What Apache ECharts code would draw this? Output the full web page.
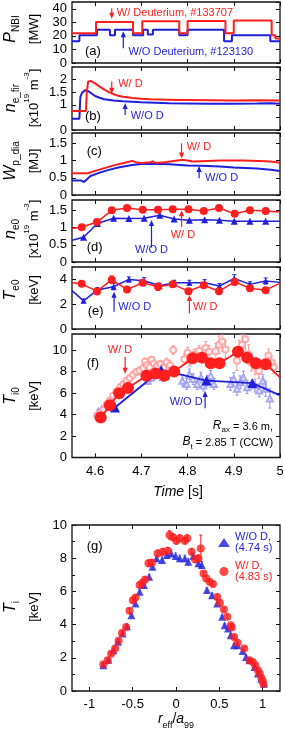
<!DOCTYPE html>
<html><head><meta charset="utf-8">
<script src="https://cdn.jsdelivr.net/npm/echarts@6/dist/echarts.min.js"></script>
<style>html,body{margin:0;padding:0;background:#fff;}#c{width:285px;height:733px;}</style>
</head><body><div id="c"></div>
<script>
// ---------- DATA ----------
const TIME_TICKS = [4.6, 4.7, 4.8, 4.9, 5.0];
const R_TICKS = [-1, -0.5, 0, 0.5, 1];

// (a) P_NBI [MW] (step change points)
const pnbiRedT = [4.55, 4.602, 4.682, 4.702, 4.782, 4.800, 4.882, 4.900, 4.982, 4.990, 5.0];
const pnbiRedV = [22, 30.2, 22, 30.8, 22, 31, 22, 31.3, 20.5, 18, 18];
const pnbiBlueT = [4.55, 4.566, 4.604, 4.632, 4.643, 4.682, 4.704, 4.714, 4.725, 4.782, 4.800, 4.879, 4.896, 4.979, 5.0];
const pnbiBlueV = [16, 20.5, 24.5, 20.5, 24.5, 20.5, 24.5, 21, 24.5, 20.5, 24.5, 16, 20.5, 16, 16];

// (b) n_e_fir [1e19 m^-3]
const nefRedT = [4.55, 4.58, 4.582, 4.585, 4.59, 4.6, 4.61, 4.62, 4.63, 4.64, 4.65, 4.66, 4.67, 4.68, 4.7, 4.72, 4.74, 4.76, 4.78, 4.8, 4.85, 4.9, 4.95, 5.0];
const nefRedV = [0.75, 0.75, 1.5, 1.93, 1.95, 1.85, 1.72, 1.6, 1.5, 1.42, 1.36, 1.32, 1.3, 1.27, 1.24, 1.22, 1.21, 1.2, 1.19, 1.19, 1.18, 1.17, 1.18, 1.17];
const nefBlueT = [4.55, 4.566, 4.568, 4.572, 4.578, 4.584, 4.59, 4.6, 4.61, 4.62, 4.64, 4.66, 4.68, 4.7, 4.73, 4.76, 4.8, 4.85, 4.9, 4.95, 4.98, 5.0];
const nefBlueV = [0.45, 0.45, 1.3, 1.48, 1.58, 1.55, 1.48, 1.35, 1.28, 1.22, 1.17, 1.14, 1.12, 1.1, 1.08, 1.06, 1.05, 1.04, 1.04, 1.05, 1.06, 1.04];

// (c) W_p_dia [MJ]
const wpRedT = [4.55, 4.585, 4.6, 4.62, 4.64, 4.66, 4.675, 4.68, 4.69, 4.7, 4.72, 4.725, 4.73, 4.75, 4.77, 4.79, 4.8, 4.81, 4.83, 4.87, 4.92, 4.97, 4.99, 5.0];
const wpRedV = [0.63, 0.63, 0.7, 0.78, 0.86, 0.92, 0.97, 0.99, 0.94, 0.93, 0.95, 0.98, 0.93, 0.95, 0.99, 1.02, 1.0, 0.97, 0.98, 1.0, 1.0, 0.98, 0.96, 0.93];
const wpBlueT = [4.55, 4.57, 4.576, 4.59, 4.61, 4.63, 4.65, 4.68, 4.7, 4.73, 4.76, 4.8, 4.83, 4.87, 4.9, 4.95, 4.98, 5.0];
const wpBlueV = [0.42, 0.42, 0.38, 0.55, 0.65, 0.73, 0.8, 0.87, 0.9, 0.91, 0.89, 0.86, 0.85, 0.83, 0.8, 0.77, 0.73, 0.7];

// (d) n_e0 [1e19 m^-3]
const ne0RedT = [4.571, 4.604, 4.636, 4.669, 4.703, 4.736, 4.768, 4.802, 4.835, 4.868, 4.902, 4.935, 4.969];
const ne0RedV = [1.01, 1.16, 1.5, 1.57, 1.52, 1.52, 1.53, 1.53, 1.48, 1.57, 1.4, 1.5, 1.48];
const ne0RedEdge = [0.97, 1.45];
const ne0BlueT = [4.575, 4.605, 4.64, 4.673, 4.706, 4.74, 4.771, 4.804, 4.837, 4.869, 4.901, 4.935, 4.969];
const ne0BlueV = [0.72, 1.12, 1.27, 1.26, 1.27, 1.36, 1.25, 1.21, 1.23, 1.21, 1.18, 1.18, 1.18];
const ne0BlueEdge = [0.63, 1.18];

// (e) T_e0 [keV]
const te0RedT = ne0RedT;
const te0RedV = [3.64, 3.03, 3.98, 3.18, 3.73, 3.4, 3.6, 3.05, 3.53, 3.05, 3.8, 3.29, 3.13];
const te0RedE = [0.15, 0.25, 0.3, 0.15, 0.2, 0.3, 0.2, 0.2, 0.2, 0.15, 0.25, 0.15, 0.15];
const te0RedEdge = [3.73, 3.7];
const te0BlueT = ne0BlueT;
const te0BlueV = [2.27, 3.15, 3.41, 4.0, 3.89, 3.49, 3.73, 3.73, 3.73, 3.47, 4.08, 3.6, 3.87];
const te0BlueE = [0.15, 0.2, 0.25, 0.2, 0.25, 0.2, 0.2, 0.2, 0.25, 0.2, 0.3, 0.2, 0.25];
const te0BlueEdge = [3.09, 3.76];

// (f) T_i0 [keV]
const ti0RedT = [4.612, 4.632, 4.652, 4.671, 4.711, 4.731, 4.75, 4.771, 4.811, 4.831, 4.85, 4.869, 4.909, 4.929, 4.948, 4.969];
const ti0RedV = [3.73, 4.86, 5.99, 6.48, 7.61, 7.83, 7.61, 8.01, 9.24, 9.3, 8.78, 8.78, 9.85, 9.3, 8.78, 8.69];
const ti0RedEnd = 7.46;
const ti0BlueT = [4.643, 4.743, 4.841, 4.94];
const ti0BlueV = [4.65, 8.15, 7.16, 6.93];
const ti0BlueEnd = 5.78;
const ti0OpenRedT = [4.604, 4.611, 4.618, 4.625, 4.632, 4.639, 4.646, 4.654, 4.661, 4.668, 4.675, 4.682, 4.689, 4.696, 4.704, 4.708, 4.712, 4.718, 4.722, 4.727, 4.734, 4.741, 4.748, 4.755, 4.762, 4.769,
  4.793, 4.8, 4.805, 4.814, 4.825, 4.832, 4.839, 4.846, 4.861, 4.868, 4.875, 4.882, 4.907, 4.912, 4.918, 4.925, 4.932, 4.938, 4.946, 4.954, 4.975, 4.982, 4.987];
const ti0OpenRedV = [3.9, 4.15, 4.45, 4.95, 5.3, 5.75, 6.15, 6.55, 6.8, 7.15, 7.4, 7.7, 7.95, 8.1, 8.3, 8.95, 8.6, 8.4, 9.1, 8.75, 8.5, 8.7, 8.35, 8.85, 8.6, 10.0,
  9.15, 9.75, 9.0, 9.6, 9.95, 9.45, 10.2, 9.85, 9.9, 10.5, 10.8, 10.05, 9.0, 9.9, 10.5, 11.0, 9.6, 8.85, 8.5, 8.05, 9.5, 8.85, 8.4];
const ti0OpenRedE = [0.2, 0.2, 0.2, 0.25, 0.25, 0.25, 0.3, 0.3, 0.3, 0.3, 0.3, 0.3, 0.3, 0.3, 0.3, 0.3, 0.3, 0.3, 0.3, 0.3, 0.3, 0.35, 0.35, 0.4, 0.4, 0.4,
  0.5, 0.5, 0.5, 0.5, 0.5, 0.5, 0.6, 0.6, 0.7, 0.8, 0.9, 0.8, 0.9, 1.0, 1.0, 1.1, 0.9, 0.8, 0.8, 0.7, 0.6, 0.6, 0.6];
const ti0OpenBlueT = [4.607, 4.614, 4.621, 4.628, 4.714, 4.721, 4.729, 4.738, 4.746, 4.753, 4.789, 4.798, 4.804, 4.812, 4.821, 4.829, 4.834, 4.843, 4.85, 4.857,
  4.893, 4.9, 4.907, 4.914, 4.921, 4.929, 4.946, 4.955, 4.963, 4.969, 4.978];
const ti0OpenBlueV = [4.25, 4.45, 4.75, 4.9, 7.15, 7.45, 7.8, 7.9, 7.5, 8.05, 7.15, 6.85, 7.75, 7.3, 6.85, 7.45, 6.7, 7.15, 7.6, 6.85,
  6.85, 7.3, 6.4, 7.0, 7.45, 6.55, 6.7, 6.25, 7.15, 6.4, 5.5];
const ti0OpenBlueE = [0.2, 0.2, 0.2, 0.25, 0.3, 0.35, 0.4, 0.4, 0.4, 0.4, 0.5, 0.5, 0.5, 0.5, 0.5, 0.5, 0.5, 0.5, 0.5, 0.5,
  0.6, 0.6, 0.6, 0.6, 0.6, 0.6, 0.6, 0.6, 0.6, 0.7, 0.9];

// (g) T_i profiles
const tiRedR = [-0.839, -0.788, -0.749, -0.702, -0.663, -0.624, -0.576, -0.537, -0.498, -0.467, -0.42, -0.388, -0.357, -0.318, -0.278, -0.212, -0.153, -0.094, -0.075, -0.035, 0.004, 0.043, 0.102, 0.129, 0.18, 0.22, 0.259, 0.286, 0.318, 0.349, 0.388, 0.427, 0.475, 0.506, 0.553, 0.592, 0.631, 0.643, 0.671, 0.71, 0.788, 0.847, 0.886, 0.914, 0.945, 0.965, 0.984, 1.0, 1.01];
const tiRedV = [1.61, 1.85, 2.25, 2.56, 3.02, 3.5, 3.86, 4.83, 5.47, 5.63, 6.38, 6.52, 6.72, 7.69, 7.73, 8.29, 8.39, 8.45, 9.4, 9.26, 9.05, 9.2, 9.05, 9.2, 8.39, 7.93, 7.99, 8.59, 7.08, 6.78, 6.58, 6.44, 5.67, 5.31, 4.91, 4.47, 3.96, 3.82, 3.26, 2.9, 2.56, 1.85, 1.75, 1.55, 1.25, 1.05, 0.8, 0.6, 0.42];
const tiRedE = [0.1, 0.1, 0.1, 0.1, 0.1, 0.1, 0.1, 0.15, 0.15, 0.15, 0.15, 0.15, 0.15, 0.2, 0.2, 0.2, 0.2, 0.2, 0.25, 0.2, 0.2, 0.2, 0.2, 0.2, 0.2, 0.2, 0.2, 0.8, 0.15, 0.15, 0.15, 0.15, 0.15, 0.15, 0.1, 0.1, 0.1, 0.1, 0.1, 0.1, 0.1, 0.1, 0.1, 0.1, 0.1, 0.1, 0.1, 0.1, 0.1];
const tiBlueR = [-0.839, -0.78, -0.722, -0.671, -0.616, -0.565, -0.514, -0.467, -0.42, -0.369, -0.31, -0.271, -0.224, -0.161, -0.106, -0.055, -0.004, 0.043, 0.102, 0.141, 0.2, 0.259, 0.298, 0.357, 0.416, 0.475, 0.533, 0.561, 0.6, 0.631, 0.671, 0.71, 0.769, 0.808, 0.847, 0.906, 0.945, 0.984, 1.016];
const tiBlueV = [1.55, 1.89, 2.45, 2.96, 3.46, 3.9, 4.57, 5.27, 5.98, 6.38, 6.88, 7.48, 7.99, 7.89, 8.19, 8.29, 8.13, 7.99, 7.99, 7.79, 8.13, 7.69, 7.59, 6.08, 5.77, 5.27, 4.47, 3.96, 3.76, 3.36, 2.76, 2.76, 2.41, 2.05, 1.85, 1.45, 1.05, 0.74, 0.44];
const tiBlueE = [0.1, 0.1, 0.1, 0.1, 0.1, 0.1, 0.1, 0.1, 0.15, 0.15, 0.15, 0.15, 0.2, 0.2, 0.2, 0.2, 0.2, 0.2, 0.2, 0.2, 0.2, 0.2, 0.2, 0.15, 0.15, 0.15, 0.1, 0.1, 0.1, 0.1, 0.1, 0.1, 0.1, 0.1, 0.1, 0.1, 0.1, 0.1, 0.1];

// ---------- STYLE ----------
const FONT = '"Liberation Sans", Arial, Helvetica, sans-serif';
const RED = '#ff1e1e', BLUE = '#1e1edc', LRED = '#ff9a9a', LBLUE = '#9494ee', INK = '#111';

function pairs(T, V) { return T.map((t, i) => [t, V[i]]); }
function withEdges(T, V, v0, v1) {
  const d = pairs(T, V);
  if (v0 != null) d.unshift({ value: [4.55, v0], symbol: 'none' });
  if (v1 != null) d.push({ value: [5.0, v1], symbol: 'none' });
  return d;
}
function errPts(T, V, E) { return T.map((t, i) => [t, V[i] - E[i], V[i] + E[i]]); }

const gridBoxes = [[2, 61], [67, 63], [133, 62], [200, 62], [267, 62], [334, 123.5], [525, 166]];
const grids = gridBoxes.map(b => ({
  left: 72, width: 208, top: b[0], height: b[1], show: true,
  borderColor: INK, borderWidth: 1.3, backgroundColor: 'transparent',
  containLabel: false, outerBoundsMode: 'none'
}));
const yDefs = [[45, 10], [2.5, 0.5], [1.8, 0.5], [1.8, 0.5], [5, 2], [11.5, 2], [10, 2]];

const xAxes = [], yAxes = [];
for (let i = 0; i < 7; i++) {
  const isG = i === 6;
  const ticks = isG ? R_TICKS : TIME_TICKS;
  const xb = {
    gridIndex: i, type: 'value', min: isG ? -1.2 : 4.55, max: isG ? 1.2 : 5.0,
    axisLine: { show: false, onZero: false }, splitLine: { show: false },
    axisTick: { inside: true, length: 4, customValues: ticks, lineStyle: { color: INK, width: 1 } },
    axisLabel: { show: i >= 5, customValues: ticks, color: '#000', fontFamily: FONT, fontSize: 13, margin: 7 }
  };
  xAxes.push(Object.assign({}, xb, { position: 'bottom' }));
  xAxes.push(Object.assign({}, xb, { position: 'top', axisLabel: { show: false } }));
  const yb = {
    gridIndex: i, type: 'value', min: 0, max: yDefs[i][0], interval: yDefs[i][1],
    axisLine: { show: false, onZero: false }, splitLine: { show: false },
    axisTick: { inside: true, length: 4, lineStyle: { color: INK, width: 1 } },
    minorTick: { show: isG, splitNumber: 2, length: 3, lineStyle: { color: INK } },
    axisLabel: { color: '#000', fontFamily: FONT, fontSize: 13, margin: 5, showMaxLabel: isG, showMinLabel: true }
  };
  yAxes.push(Object.assign({}, yb, { position: 'left' }));
  yAxes.push(Object.assign({}, yb, { position: 'right', axisLabel: { show: false } }));
}

function ax(i) { return { xAxisIndex: 2 * i, yAxisIndex: 2 * i }; }
function lineS(i, data, color, w, extra) {
  return Object.assign({ type: 'line', data, symbol: 'none', showAllSymbol: true, silent: true,
    lineStyle: { color, width: w }, itemStyle: { color }, z: 3 }, ax(i), extra || {});
}
function errSeries(i, pts, color, cap, lw) {
  return Object.assign({ type: 'custom', clip: true, silent: true, data: pts, encode: { x: 0, y: [1, 2] }, z: 2,
    renderItem(params, api) {
      const x = api.value(0);
      const a = api.coord([x, api.value(1)]), b = api.coord([x, api.value(2)]);
      const st = { stroke: color, lineWidth: lw };
      return { type: 'group', children: [
        { type: 'line', shape: { x1: a[0], y1: a[1], x2: b[0], y2: b[1] }, style: st },
        { type: 'line', shape: { x1: b[0] - cap, y1: b[1], x2: b[0] + cap, y2: b[1] }, style: st },
        { type: 'line', shape: { x1: a[0] - cap, y1: a[1], x2: a[0] + cap, y2: a[1] }, style: st }
      ] };
    } }, ax(i));
}
function arrowSeries(i, list) {
  return Object.assign({ type: 'custom', silent: true, data: list, encode: { x: 0, y: [1, 2] }, z: 6, clip: false,
    renderItem(params, api) {
      const x = api.value(0);
      const a = api.coord([x, api.value(1)]), b = api.coord([x, api.value(2)]);
      const c = api.value(3) ? RED : BLUE;
      const dir = b[1] > a[1] ? 1 : -1, hl = 6, hw = 2.6;
      return { type: 'group', children: [
        { type: 'line', shape: { x1: a[0], y1: a[1], x2: b[0], y2: b[1] - dir * hl * 0.7 }, style: { stroke: c, lineWidth: 1.2 } },
        { type: 'polygon', shape: { points: [[b[0], b[1]], [b[0] - hw, b[1] - dir * hl], [b[0] + hw, b[1] - dir * hl]] }, style: { fill: c } }
      ] };
    } }, ax(i));
}

const series = [
  // (a)
  lineS(0, pairs(pnbiBlueT, pnbiBlueV), BLUE, 2, { step: 'end' }),
  lineS(0, pairs(pnbiRedT, pnbiRedV), RED, 2, { step: 'end' }),
  arrowSeries(0, [[4.636, 40.4, 32.6, 1], [4.661, 10.8, 23.4, 0]]),
  // (b)
  lineS(1, pairs(nefBlueT, nefBlueV), BLUE, 2),
  lineS(1, pairs(nefRedT, nefRedV), RED, 2),
  arrowSeries(1, [[4.636, 1.92, 1.44, 1], [4.665, 0.6, 1.07, 0]]),
  // (c)
  lineS(2, pairs(wpBlueT, wpBlueV), BLUE, 2),
  lineS(2, pairs(wpRedT, wpRedV), RED, 2),
  arrowSeries(2, [[4.787, 1.5, 1.06, 1], [4.825, 0.485, 0.84, 0]]),
  // (d)
  lineS(3, withEdges(ne0BlueT, ne0BlueV, ne0BlueEdge[0], ne0BlueEdge[1]), BLUE, 1.5, { symbol: 'triangle', symbolSize: 7 }),
  lineS(3, withEdges(ne0RedT, ne0RedV, ne0RedEdge[0], ne0RedEdge[1]), RED, 1.5, { symbol: 'circle', symbolSize: 8 }),
  arrowSeries(3, [[4.722, 0.42, 1.22, 0], [4.787, 1.02, 1.5, 1]]),
  // (e)
  errSeries(4, errPts(te0BlueT, te0BlueV, te0BlueE), BLUE, 2, 1),
  errSeries(4, errPts(te0RedT, te0RedV, te0RedE), RED, 2, 1),
  lineS(4, withEdges(te0BlueT, te0BlueV, te0BlueEdge[0], te0BlueEdge[1]), BLUE, 1.5, { symbol: 'triangle', symbolSize: 6 }),
  lineS(4, withEdges(te0RedT, te0RedV, te0RedEdge[0], te0RedEdge[1]), RED, 1.5, { symbol: 'circle', symbolSize: 8 }),
  arrowSeries(4, [[4.641, 1.4, 3.0, 0], [4.804, 1.27, 2.75, 1]]),
  // (f)
  errSeries(5, errPts(ti0OpenBlueT, ti0OpenBlueV, ti0OpenBlueE), LBLUE, 1.5, 1),
  errSeries(5, errPts(ti0OpenRedT, ti0OpenRedV, ti0OpenRedE), LRED, 1.5, 1),
  Object.assign({ type: 'scatter', data: pairs(ti0OpenBlueT, ti0OpenBlueV), symbol: 'emptyTriangle', symbolSize: 6, silent: true,
    itemStyle: { color: LBLUE, borderColor: LBLUE, borderWidth: 1 }, z: 2 }, ax(5)),
  Object.assign({ type: 'scatter', data: pairs(ti0OpenRedT, ti0OpenRedV), symbol: 'emptyCircle', symbolSize: 6, silent: true,
    itemStyle: { color: LRED, borderColor: LRED, borderWidth: 1 }, z: 2 }, ax(5)),
  lineS(5, withEdges(ti0BlueT, ti0BlueV, null, ti0BlueEnd), BLUE, 1.8, { symbol: 'triangle', symbolSize: 10 }),
  lineS(5, withEdges(ti0RedT, ti0RedV, null, ti0RedEnd), RED, 1.8, { symbol: 'circle', symbolSize: 12 }),
  arrowSeries(5, [[4.665, 9.39, 7.8, 1], [4.838, 4.58, 6.2, 0]]),
  // (g)
  errSeries(6, errPts(tiBlueR, tiBlueV, tiBlueE), LBLUE, 1.5, 1),
  errSeries(6, errPts(tiRedR, tiRedV, tiRedE), RED, 1.5, 1),
  Object.assign({ name: 'W/O D, (4.74 s)', type: 'scatter', data: pairs(tiBlueR, tiBlueV), symbol: 'triangle', symbolSize: 8, silent: true,
    itemStyle: { color: BLUE }, z: 3 }, ax(6)),
  Object.assign({ name: 'W/ D, (4.83 s)', type: 'scatter', data: pairs(tiRedR, tiRedV), symbol: 'circle', symbolSize: 8, silent: true,
    itemStyle: { color: RED }, z: 4 }, ax(6))
];

const chart = echarts.init(document.getElementById('c'), null, { renderer: 'canvas' });
chart.setOption({
  animation: false,
  backgroundColor: '#fff',
  grid: grids, xAxis: xAxes, yAxis: yAxes, series,
  legend: {
    left: 218, top: 526, orient: 'vertical', padding: 0, itemGap: -4, itemWidth: 12, itemHeight: 9,
    selectedMode: false,
    data: [{ name: 'W/O D, (4.74 s)', textStyle: { color: BLUE } }, { name: 'W/ D, (4.83 s)', textStyle: { color: RED } }],
    formatter: n => n.replace(', ', ',\n'),
    textStyle: { fontFamily: FONT, fontSize: 11, lineHeight: 11, padding: [11, 0, 0, 0] }
  }
});

// ---------- TEXT ----------
const RICH = {
  i: { fontFamily: FONT, fontSize: 16, fontStyle: 'italic', verticalAlign: 'top', lineHeight: 19 },
  s: { fontFamily: FONT, fontSize: 10, verticalAlign: 'bottom' },
  n: { fontFamily: FONT, fontSize: 13, verticalAlign: 'bottom', lineHeight: 18 },
  u: { fontFamily: FONT, fontSize: 8, verticalAlign: 'top' },
  a: { fontFamily: FONT, fontSize: 11, lineHeight: 13 },
  ai: { fontFamily: FONT, fontSize: 12, fontStyle: 'italic', verticalAlign: 'top', lineHeight: 15 },
  as: { fontFamily: FONT, fontSize: 8, verticalAlign: 'bottom' },
  xi: { fontFamily: FONT, fontSize: 14, fontStyle: 'italic', verticalAlign: 'top', lineHeight: 18 },
  xn: { fontFamily: FONT, fontSize: 14, verticalAlign: 'top', lineHeight: 18 },
  xs: { fontFamily: FONT, fontSize: 9, verticalAlign: 'bottom' }
};
const DENS = '{n|[x10}{u|19}{n| m}{u|-3}{n|]}';
const yTitles = [
  [29, '{i|P}{s|NBI}', '{n|[MW]}'],
  [98, '{i|n}{s|e_fir}', DENS],
  [161, '{i|W}{s|p_dia}', '{n|[MJ]}'],
  [229, '{i|n}{s|e0}', DENS],
  [290, '{i|T}{s|e0}', '{n|[keV]}'],
  [396, '{i|T}{s|i0}', '{n|[keV]}'],
  [607, '{i|T}{s|i}', '{n|[keV]}']
];
const graphic = [];
yTitles.forEach(t => {
  graphic.push({ type: 'text', x: 12, y: t[0], rotation: Math.PI / 2, silent: true,
    style: { text: t[1], rich: RICH, align: 'center', verticalAlign: 'middle', fill: '#000' } });
  graphic.push({ type: 'text', x: 32, y: t[0], rotation: Math.PI / 2, silent: true,
    style: { text: t[2], rich: RICH, align: 'center', verticalAlign: 'middle', fill: '#000' } });
});
graphic.push({ type: 'text', x: 178, y: 494, silent: true,
  style: { text: '{xi|Time}{xn| [s]}', rich: RICH, align: 'center', verticalAlign: 'middle', fill: '#000' } });
graphic.push({ type: 'text', x: 176, y: 721, silent: true,
  style: { text: '{xi|r}{xs|eff}{xn|/}{xi|a}{xs|99}', rich: RICH, align: 'center', verticalAlign: 'middle', fill: '#000' } });

// annotations: [grid, text, x, y, color, align, fontSize]
const notes = [
  [0, 'W/ Deuterium, #133707', 4.647, 37.1, RED, 'left'],
  [0, 'W/O Deuterium, #123130', 4.672, 7.9, BLUE, 'left'],
  [0, '(a)', 4.578, 8.3, '#000', 'left', 13],
  [1, 'W/ D', 4.65, 1.81, RED, 'left'],
  [1, 'W/O D', 4.677, 0.56, BLUE, 'left'],
  [1, '(b)', 4.578, 0.53, '#000', 'left', 13],
  [2, 'W/ D', 4.798, 1.40, RED, 'left'],
  [2, 'W/O D', 4.838, 0.485, BLUE, 'left'],
  [2, '(c)', 4.582, 1.26, '#000', 'left', 13],
  [3, 'W/O D', 4.722, 0.35, BLUE, 'center'],
  [3, 'W/ D', 4.79, 0.78, RED, 'center'],
  [3, '(d)', 4.582, 0.41, '#000', 'left', 13],
  [4, 'W/O D', 4.65, 1.8, BLUE, 'left'],
  [4, 'W/ D', 4.812, 1.8, RED, 'left'],
  [4, '(e)', 4.584, 1.4, '#000', 'left', 13],
  [5, 'W/ D', 4.654, 10.0, RED, 'center'],
  [5, 'W/O D', 4.797, 5.2, BLUE, 'center'],
  [5, '(f)', 4.582, 8.77, '#000', 'left', 13],
  [5, '{ai|R}{as|ax}{a| = 3.6 m,}', 4.985, 2.87, '#000', 'right', 0],
  [5, '{ai|B}{as|t}{a| = 2.85 T (CCW)}', 4.985, 1.35, '#000', 'right', 0],
  [6, '(g)', -1.03, 8.69, '#000', 'left', 13]
];
notes.forEach(n => {
  const p = chart.convertToPixel(ax(n[0]), [n[2], n[3]]);
  const st = { text: n[1], align: n[5], verticalAlign: 'middle', fill: n[4], fontFamily: FONT, fontSize: n[6] || 11 };
  if (n[6] === 0) { st.rich = RICH; st.fontSize = 11; }
  graphic.push({ type: 'text', x: p[0], y: p[1], silent: true, style: st, z: 10 });
});
chart.setOption({ graphic });
</script></body></html>
